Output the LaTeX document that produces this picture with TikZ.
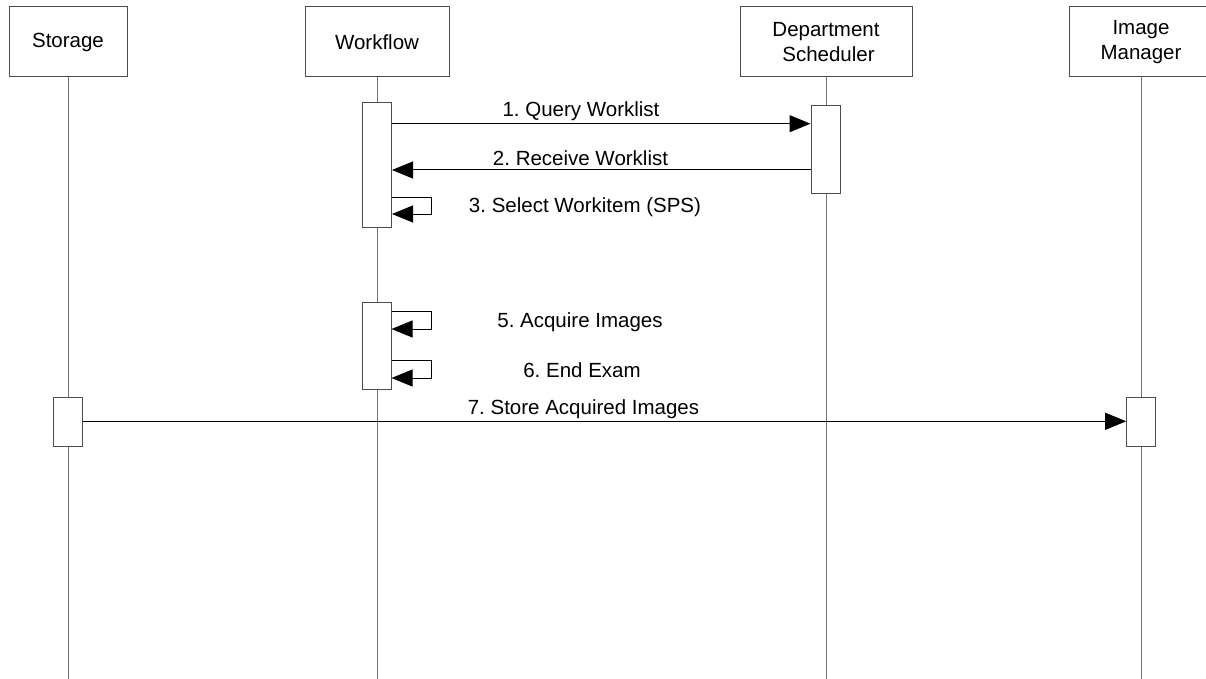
\documentclass[tikz,border=0pt]{standalone}
\usepackage{fontspec}
\setmainfont{Liberation Sans}
\usetikzlibrary{arrows.meta}
\frenchspacing
\begin{document}
\begin{tikzpicture}[x=1pt,y=-1pt,
 head/.style={draw=black!70,line width=1pt,fill=white,minimum height=70pt,inner sep=0pt,align=center,font=\fontsize{20.5}{24.5}\selectfont},
 act/.style={draw=black!70,line width=1pt,fill=white,minimum width=29pt,inner sep=0pt},
 life/.style={draw=black!55,line width=1pt},
 msg/.style={draw=black,line width=1pt,-{Triangle[length=21pt,width=17pt]}},
 lbl/.style={font=\fontsize{20.5}{24.5}\selectfont,inner sep=0pt}]
\useasboundingbox (0,0) rectangle (1206,679);
\clip (0,0) rectangle (1206,679);
% heads
\node[head,minimum width=118pt] (st) at (68,42) {Storage};
\node[head,minimum width=144pt] (wf) at (377,42) {Workflow};
\node[head,minimum width=172pt] (ds) at (826,42) {Department\\\hspace*{5pt}Scheduler};
\node[head,minimum width=144pt] (im) at (1141,42) {Image\\Manager};
% lifeline ends
\coordinate (stE) at (68,680);
\coordinate (wfE) at (377,680);
\coordinate (dsE) at (826,680);
\coordinate (imE) at (1141,680);
\draw[life] (st.south) -- (stE);
\draw[life] (wf.south) -- (wfE);
\draw[life] (ds.south) -- (dsE);
\draw[life] (im.south) -- (imE);
% activations
\node[act,minimum height=124pt] (wf1) at (377,165) {};
\node[act,minimum height=87pt] (ds1) at (825.5,149.5) {};
\node[act,minimum height=87pt] (wf2) at (376.5,345.5) {};
\node[act,minimum height=49pt] (st1) at (67.5,421.7) {};
\node[act,minimum height=49pt] (im1) at (1141.2,421.7) {};
% message levels
\coordinate (y1) at (0,123.7);
\coordinate (y2) at (0,170);
\coordinate (y3a) at (0,197.7);
\coordinate (y3b) at (0,214);
\coordinate (y5a) at (0,311.3);
\coordinate (y5b) at (0,329);
\coordinate (y6a) at (0,360.3);
\coordinate (y6b) at (0,378);
\coordinate (y7) at (0,421.3);
\coordinate (xs) at (431,0);
% messages
\draw[msg] (wf1.east |- y1) -- (ds1.west |- y1);
\draw[msg] (ds1.west |- y2) -- (wf1.east |- y2);
\draw[msg] (wf1.east |- y3a) -- (xs |- y3a) -- (xs |- y3b) -- (wf1.east |- y3b);
\draw[msg] (wf2.east |- y5a) -- (xs |- y5a) -- (xs |- y5b) -- (wf2.east |- y5b);
\draw[msg] (wf2.east |- y6a) -- (xs |- y6a) -- (xs |- y6b) -- (wf2.east |- y6b);
\draw[msg] (st1.east |- y7) -- (im1.west |- y7);
% labels
\node[lbl] (l1) at (581,111) {1. Query Worklist};
\node[lbl] (l2) at (580.5,158) {2. Receive Worklist};
\node[lbl] (l3) at (585,207.5) {3. Select Workitem (SPS)};
\node[lbl] (l5) at (580,322) {5. Acquire Images};
\node[lbl] (l6) at (582,370.5) {6. End Exam};
\node[lbl] (l7) at (583.5,409) {7. Store Acquired Images};
\end{tikzpicture}
\end{document}
